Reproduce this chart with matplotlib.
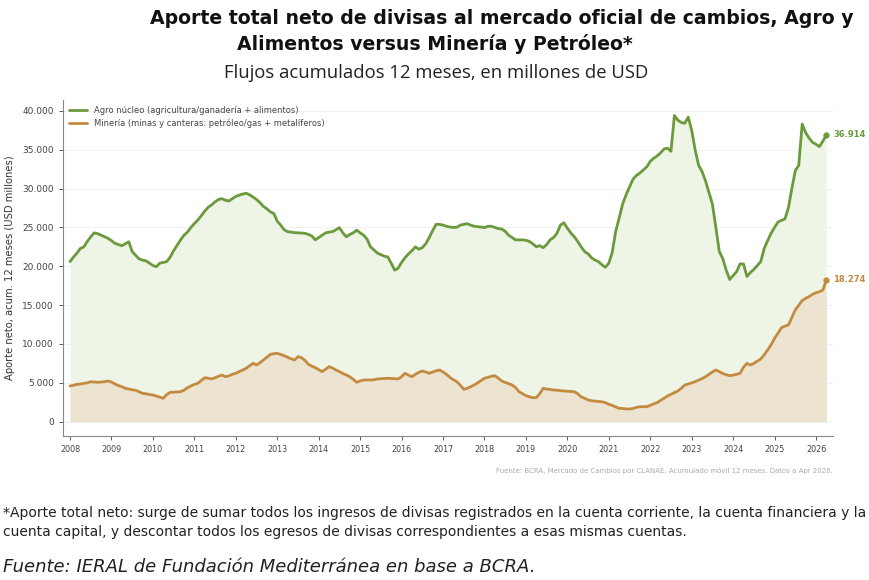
import numpy as np
import matplotlib
matplotlib.use("Agg")
import matplotlib.pyplot as plt
from matplotlib.ticker import FuncFormatter, FixedLocator

# ---------------- data (monthly, Jan 2008 .. Apr 2026, USD millions) -----------
start_year = 2008
agro = [
    20600, 21200, 21700, 22300, 22500, 23200, 23800, 24300, 24200, 24000, 23800, 23600,  # 2008
    23300, 22950, 22800, 22650, 22900, 23150, 21900, 21400, 20950, 20800, 20700, 20400,  # 2009
    20100, 19950, 20400, 20500, 20600, 21200, 22000, 22700, 23400, 24000, 24400, 25000,  # 2010
    25500, 25950, 26500, 27100, 27600, 27900, 28300, 28600, 28700, 28500, 28400, 28700,  # 2011
    29000, 29150, 29300, 29400, 29200, 28900, 28600, 28200, 27700, 27400, 27000, 26800,  # 2012
    25800, 25300, 24700, 24450, 24400, 24330, 24300, 24280, 24250, 24100, 23900, 23400,  # 2013
    23700, 24000, 24300, 24400, 24460, 24700, 24970, 24300, 23800, 24100, 24300, 24650,  # 2014
    24300, 24000, 23500, 22500, 22100, 21700, 21500, 21300, 21200, 20400, 19500, 19750,  # 2015
    20500, 21100, 21600, 22000, 22500, 22200, 22400, 22900, 23700, 24600, 25400, 25400,  # 2016
    25300, 25150, 25050, 25000, 25020, 25300, 25400, 25480, 25300, 25150, 25100, 25050,  # 2017
    24970, 25150, 25150, 25000, 24850, 24800, 24500, 24000, 23700, 23400, 23400, 23400,  # 2018
    23350, 23200, 22900, 22520, 22650, 22400, 22800, 23400, 23700, 24250, 25300, 25600,  # 2019
    24900, 24300, 23800, 23200, 22500, 21900, 21600, 21100, 20800, 20600, 20200, 19870,  # 2020
    20400, 21800, 24500, 26200, 28000, 29200, 30200, 31200, 31700, 32000, 32400, 32800,  # 2021
    33500, 33900, 34200, 34600, 35100, 35200, 34800, 39400, 38800, 38500, 38400, 39200,  # 2022
    37500, 35000, 33000, 32200, 31000, 29500, 28000, 25000, 21900, 21000, 19500, 18300,  # 2023
    18800, 19300, 20300, 20300, 18700, 19200, 19600, 20100, 20600, 22300, 23300, 24250,  # 2024
    25000, 25700, 25900, 26100, 27500, 30000, 32300, 33000, 38300, 37200, 36500, 35950,  # 2025
    35700, 35400, 36100, 36914,                                                          # 2026
]
mineria = [
    4590, 4700, 4800, 4850, 4940, 5000, 5150, 5100, 5070, 5100, 5150, 5240,   # 2008
    5100, 4850, 4650, 4500, 4300, 4210, 4100, 4050, 3850, 3650, 3600, 3500,   # 2009
    3440, 3300, 3150, 3010, 3500, 3780, 3800, 3830, 3860, 4050, 4380, 4600,   # 2010
    4800, 4940, 5300, 5660, 5600, 5500, 5660, 5850, 6010, 5790, 5900, 6100,   # 2011
    6230, 6450, 6650, 6870, 7200, 7520, 7300, 7600, 7940, 8300, 8670, 8750,   # 2012
    8800, 8650, 8490, 8300, 8100, 7940, 8370, 8240, 7900, 7390, 7150, 6950,   # 2013
    6700, 6440, 6750, 7080, 6900, 6650, 6450, 6200, 6010, 5790, 5450, 5070,   # 2014
    5250, 5370, 5370, 5370, 5400, 5500, 5530, 5560, 5590, 5560, 5530, 5500,   # 2015
    5800, 6230, 6000, 5790, 6100, 6350, 6530, 6400, 6230, 6400, 6550, 6650,   # 2016
    6400, 6100, 5700, 5400, 5150, 4700, 4170, 4300, 4500, 4720, 5000, 5300,   # 2017
    5590, 5700, 5850, 5920, 5600, 5240, 5050, 4900, 4720, 4400, 3860, 3600,   # 2018
    3350, 3200, 3090, 3100, 3600, 4300, 4200, 4150, 4080, 4050, 4000, 3950,   # 2019
    3920, 3900, 3860, 3600, 3200, 3010, 2800, 2700, 2650, 2600, 2570, 2450,   # 2020
    2240, 2100, 1900, 1720, 1700, 1650, 1630, 1700, 1850, 1930, 1930, 1930,   # 2021
    2100, 2300, 2450, 2750, 3010, 3300, 3530, 3750, 3950, 4300, 4720, 4850,   # 2022
    5000, 5150, 5350, 5550, 5790, 6100, 6400, 6650, 6440, 6200, 6050, 5920,   # 2023
    6000, 6100, 6230, 7000, 7520, 7300, 7500, 7800, 8070, 8600, 9230, 9900,   # 2024
    10730, 11400, 12100, 12300, 12450, 13400, 14380, 15000, 15600, 15880, 16100, 16400,  # 2025
    16600, 16730, 16950, 18274,                                               # 2026
]
year_ticks = list(range(2008, 2027))
y_ticks = [0, 5000, 10000, 15000, 20000, 25000, 30000, 35000, 40000]
label_agro = "Agro núcleo (agricultura/ganadería + alimentos)"
label_min = "Minería (minas y canteras: petróleo/gas + metalíferos)"

# ---------------- styling ----------------
c_agro = "#6b9a3c"
c_min = "#c48a3f"
fill_agro = "#eef4e6"
fill_min = "#ece4d1"

W, H = 870, 580
fig = plt.figure(figsize=(W / 100, H / 100), dpi=100)
fig.patch.set_facecolor("white")

def px(x, y):
    return x / W, 1 - y / H

# titles
fig.text(*px(502, 19), "Aporte total neto de divisas al mercado oficial de cambios, Agro y",
         ha="center", va="center", fontsize=13.6, fontweight="bold", family="DejaVu Sans", color="#111111")
fig.text(*px(435, 44), "Alimentos versus Minería y Petróleo*",
         ha="center", va="center", fontsize=13.6, fontweight="bold", family="DejaVu Sans", color="#111111")
fig.text(*px(436, 73), "Flujos acumulados 12 meses, en millones de USD",
         ha="center", va="center", fontsize=13.3, family="Open Sans", color="#222222")

# axes
L, R, T, B = 63, 833, 100, 436
ax = fig.add_axes([L / W, 1 - B / H, (R - L) / W, (B - T) / H])
x = start_year + np.arange(len(agro)) / 12.0
ax.fill_between(x, 0, agro, color=fill_agro, zorder=1, lw=0)
ax.fill_between(x, 0, mineria, color=fill_min, zorder=2, lw=0)
ax.plot(x, agro, color=c_agro, lw=2.0, label=label_agro, zorder=4, solid_capstyle="round")
ax.plot(x, mineria, color=c_min, lw=2.0, label=label_min, zorder=4, solid_capstyle="round")
ax.plot([x[-1]], [agro[-1]], "o", color=c_agro, ms=3.5, zorder=5)
ax.plot([x[-1]], [mineria[-1]], "o", color=c_min, ms=3.5, zorder=5)

fmt = lambda v: f"{int(round(v)):,}".replace(",", ".")
ax.annotate(fmt(agro[-1]), (x[-1], agro[-1]), xytext=(5, 0), textcoords="offset points",
            va="center", ha="left", fontsize=6, fontweight="bold", color=c_agro)
ax.annotate(fmt(mineria[-1]), (x[-1], mineria[-1]), xytext=(5, 0), textcoords="offset points",
            va="center", ha="left", fontsize=6, fontweight="bold", color=c_min)

ax.set_xlim(2007.83, 2026.41)
ax.set_ylim(-1840, 41400)
ax.xaxis.set_major_locator(FixedLocator(year_ticks))
ax.set_xticklabels([str(y) for y in year_ticks])
ax.yaxis.set_major_locator(FixedLocator(y_ticks))
ax.yaxis.set_major_formatter(FuncFormatter(lambda v, p: fmt(v)))
ax.tick_params(axis="both", labelsize=6.5, colors="#444444", length=3, width=0.6)
ax.tick_params(axis="x", labelsize=5.8)
ax.grid(axis="y", color="#eeeeee", lw=0.6, zorder=0)
ax.set_axisbelow(True)
for s in ["top", "right"]:
    ax.spines[s].set_visible(False)
for s in ["left", "bottom"]:
    ax.spines[s].set_color("#888888")
    ax.spines[s].set_linewidth(0.8)
ax.set_ylabel("Aporte neto, acum. 12 meses (USD millones)", fontsize=7.2, color="#333333", labelpad=5)
leg = ax.legend(loc="upper left", frameon=False, fontsize=6.0, handlelength=2.2,
                borderaxespad=0.3, labelspacing=0.4)
for t in leg.get_texts():
    t.set_color("#444444")

fig.text(*px(833, 470), "Fuente: BCRA, Mercado de Cambios por CLANAE. Acumulado móvil 12 meses. Datos a Apr 2026.",
         ha="right", va="center", fontsize=5.0, color="#aaaaaa")

# footnote
fig.text(*px(3, 513), "*Aporte total neto: surge de sumar todos los ingresos de divisas registrados en la cuenta corriente, la cuenta financiera y la",
         ha="left", va="center", fontsize=10.0, family="DejaVu Sans", color="#222222")
fig.text(*px(3, 532), "cuenta capital, y descontar todos los egresos de divisas correspondientes a esas mismas cuentas.",
         ha="left", va="center", fontsize=10.0, family="DejaVu Sans", color="#222222")
fig.text(*px(3, 567), "Fuente: IERAL de Fundación Mediterránea en base a BCRA.",
         ha="left", va="center", fontsize=13, style="italic", family="DejaVu Sans", color="#222222")

fig.savefig("out.png", dpi=100, facecolor="white")
